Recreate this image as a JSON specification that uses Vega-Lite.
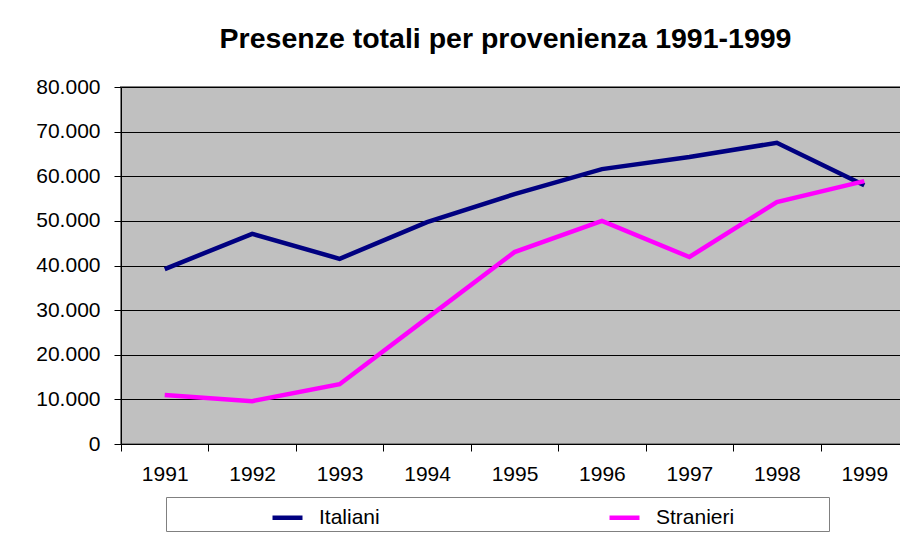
{
  "$schema": "https://vega.github.io/schema/vega-lite/v6.json",
  "autosize": "none",
  "width": 787,
  "height": 357,
  "padding": {"left": 121, "top": 87, "right": -8, "bottom": 92},
  "background": "white",
  "title": {
    "text": "Presenze totali per provenienza 1991-1999",
    "font": "Liberation Sans",
    "fontSize": 28.5,
    "fontWeight": "bold",
    "color": "black",
    "anchor": "middle",
    "offset": 23,
    "dx": -9
  },
  "data": {
    "values": [
      {"anno": "1991", "serie": "Italiani", "presenze": 39200},
      {"anno": "1992", "serie": "Italiani", "presenze": 47100},
      {"anno": "1993", "serie": "Italiani", "presenze": 41500},
      {"anno": "1994", "serie": "Italiani", "presenze": 49700},
      {"anno": "1995", "serie": "Italiani", "presenze": 56000},
      {"anno": "1996", "serie": "Italiani", "presenze": 61600},
      {"anno": "1997", "serie": "Italiani", "presenze": 64300},
      {"anno": "1998", "serie": "Italiani", "presenze": 67500},
      {"anno": "1999", "serie": "Italiani", "presenze": 58000},
      {"anno": "1991", "serie": "Stranieri", "presenze": 11000},
      {"anno": "1992", "serie": "Stranieri", "presenze": 9600},
      {"anno": "1993", "serie": "Stranieri", "presenze": 13400},
      {"anno": "1994", "serie": "Stranieri", "presenze": 28200},
      {"anno": "1995", "serie": "Stranieri", "presenze": 43000},
      {"anno": "1996", "serie": "Stranieri", "presenze": 50000},
      {"anno": "1997", "serie": "Stranieri", "presenze": 41900},
      {"anno": "1998", "serie": "Stranieri", "presenze": 54200},
      {"anno": "1999", "serie": "Stranieri", "presenze": 58900}
    ]
  },
  "mark": {"type": "line", "strokeWidth": 4.5, "strokeJoin": "miter"},
  "encoding": {
    "x": {
      "field": "anno",
      "type": "ordinal",
      "scale": {"paddingInner": 0, "paddingOuter": 0},
      "axis": {
        "title": null,
        "labelAngle": 0,
        "tickBand": "extent",
        "tickSize": 7,
        "labelPadding": 12,
        "grid": false
      }
    },
    "y": {
      "field": "presenze",
      "type": "quantitative",
      "scale": {"domain": [0, 80000], "nice": false},
      "axis": {
        "title": null,
        "values": [0, 10000, 20000, 30000, 40000, 50000, 60000, 70000, 80000],
        "format": ",d",
        "tickSize": 7,
        "labelPadding": 14,
        "grid": true,
        "gridColor": "black",
        "gridWidth": 1,
        "gridOpacity": 1
      }
    },
    "color": {
      "field": "serie",
      "type": "nominal",
      "scale": {"domain": ["Italiani", "Stranieri"], "range": ["#000080", "#FF00FF"]},
      "legend": {
        "title": " ",
        "titleOrient": "right",
        "titlePadding": 92,
        "titleFontSize": 2,
        "orient": "none",
        "legendX": 45,
        "legendY": 410,
        "direction": "horizontal",
        "symbolType": "stroke",
        "symbolSize": 900,
        "symbolStrokeWidth": 4.5,
        "labelFontSize": 21,
        "labelOffset": 14,
        "columnPadding": 126,
        "padding": 3,
        "symbolOffset": 101,
        "strokeColor": "#808080",
        "fillColor": "white"
      }
    }
  },
  "config": {
    "locale": {"number": {"decimal": ",", "thousands": ".", "grouping": [3], "currency": ["€", ""]}},
    "font": "Liberation Sans",
    "view": {"fill": "#C0C0C0", "stroke": "#808080", "strokeWidth": 2},
    "axis": {
      "domainColor": "black",
      "domainWidth": 1,
      "tickColor": "black",
      "tickWidth": 1,
      "labelColor": "black",
      "labelFont": "Liberation Sans",
      "labelFontSize": 21
    },
    "legend": {"labelFont": "Liberation Sans", "labelColor": "black"}
  }
}
